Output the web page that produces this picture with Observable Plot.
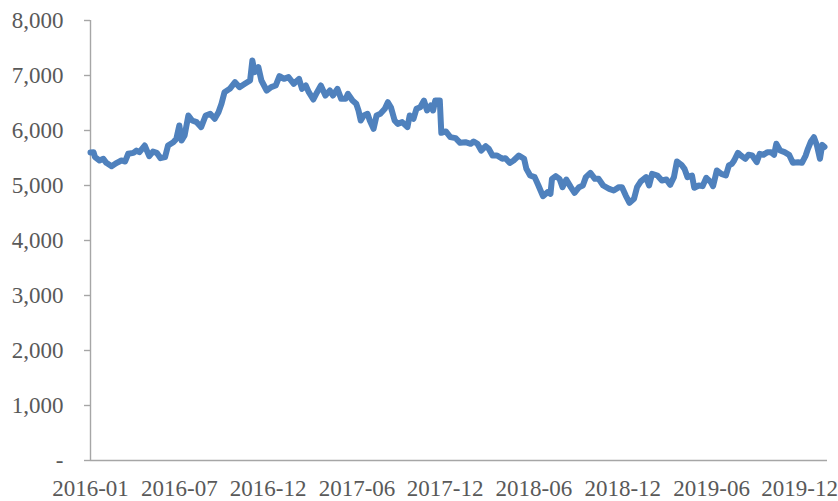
<!DOCTYPE html>
<html>
<head>
<meta charset="utf-8">
<script src="https://cdn.jsdelivr.net/npm/d3@7"></script>
<script src="https://cdn.jsdelivr.net/npm/@observablehq/plot@0.6"></script>
<style>
  html, body { margin: 0; padding: 0; background: #ffffff; }
  #chart svg { display: block; }
</style>
</head>
<body>
<div id="chart"></div>
<script>
// Trading-day index (category position) and index level
const dayIndex = [
  0, 4, 6, 12, 17, 21, 28, 35, 41, 46, 50, 57, 61, 65, 72, 78, 83, 88, 93, 99,
  103, 110, 114, 118, 121, 125, 130, 135, 141, 147, 153, 159, 165, 170, 174, 178, 185, 192, 198, 205,
  212, 215, 218, 223, 227, 234, 240, 246, 251, 257, 263, 270, 277, 281, 286, 290, 296, 301, 306, 312,
  318, 322, 328, 333, 339, 342, 348, 353, 356, 359, 363, 368, 371, 376, 380, 385, 391, 395, 399, 404,
  408, 414, 421, 424, 429, 433, 438, 443, 447, 452, 455, 458, 464, 466, 472, 478, 485, 491, 498, 505,
  509, 514, 519, 525, 529, 534, 540, 547, 551, 557, 562, 569, 576, 579, 584, 590, 595, 601, 607, 611,
  613, 618, 623, 627, 632, 638, 643, 649, 654, 658, 664, 670, 675, 681, 689, 695, 702, 706, 711, 716,
  722, 726, 731, 738, 742, 746, 753, 759, 765, 770, 775, 779, 785, 789, 793, 799, 802, 808, 813, 818,
  824, 827, 832, 838, 844, 848, 852, 855, 860, 864, 870, 874, 879, 885, 889, 894, 899, 904, 908, 911,
  916, 922, 928, 933, 940, 945, 950, 953, 957, 961, 965, 969, 972, 975
];
const indexValue = [
  5600, 5605, 5515, 5455, 5485, 5412, 5350, 5412, 5455, 5436, 5576, 5594, 5636, 5606, 5727, 5533, 5618, 5594, 5497, 5515,
  5727, 5788, 5848, 6091, 5818, 5909, 6273, 6182, 6152, 6061, 6273, 6303, 6212, 6333, 6485, 6697, 6758, 6879, 6788, 6849,
  6909, 7273, 7061, 7152, 6909, 6727, 6788, 6818, 6988, 6939, 6970, 6849, 6939, 6758, 6818, 6697, 6564, 6697, 6818, 6636,
  6727, 6636, 6758, 6576, 6576, 6667, 6545, 6485, 6364, 6182, 6273, 6303, 6182, 6030, 6273, 6303, 6394, 6515, 6424, 6182,
  6121, 6152, 6061, 6273, 6212, 6394, 6424, 6545, 6364, 6455, 6364, 6545, 6545, 5958, 5982, 5879, 5861, 5776, 5788, 5758,
  5800, 5758, 5636, 5715, 5667, 5545, 5545, 5485, 5497, 5412, 5455, 5545, 5485, 5303, 5182, 5152, 5000, 4806, 4879, 4848,
  5121, 5170, 5121, 4970, 5109, 4970, 4867, 4970, 5000, 5152, 5230, 5121, 5121, 5000, 4939, 4909, 4970, 4970, 4818, 4685,
  4758, 4970, 5075, 5152, 5000, 5212, 5182, 5091, 5109, 5012, 5152, 5436, 5376, 5303, 5152, 5182, 4958, 5000, 4988, 5139,
  5061, 4988, 5273, 5212, 5182, 5364, 5394, 5455, 5594, 5545, 5485, 5558, 5545, 5424, 5576, 5558, 5606, 5606, 5558, 5758,
  5636, 5606, 5558, 5412, 5424, 5412, 5545, 5667, 5800, 5879, 5727, 5485, 5739, 5700
];

// Axis ticks and labels
const yTicks = [0, 1000, 2000, 3000, 4000, 5000, 6000, 7000, 8000];
const xTickIdx = [0, 118, 236, 354, 471, 589, 707, 825, 942];
const xTickLabels = ["2016-01", "2016-07", "2016-12", "2017-06", "2017-12", "2018-06", "2018-12", "2019-06", "2019-12"];

const data = dayIndex.map((d, i) => ({i: d, v: indexValue[i]}));
const fmt = d3.format(",");
const font = "'Liberation Serif', 'Times New Roman', Times, serif";

const chart = Plot.plot({
  width: 838,
  height: 501,
  marginLeft: 90,
  marginRight: 11,
  marginTop: 20,
  marginBottom: 41,
  style: {fontFamily: font, fontSize: "23px", color: "#595959", background: "#ffffff"},
  x: {domain: [0, 979], axis: null},
  y: {domain: [0, 8000], axis: null},
  marks: [
    Plot.ruleX([0], {stroke: "#a6a6a6", strokeWidth: 1.4}),
    Plot.ruleY([0], {stroke: "#a6a6a6", strokeWidth: 1.4}),
    Plot.axisY(yTicks, {
      anchor: "left", tickSize: 6, tickPadding: 21,
      stroke: "#a6a6a6", strokeWidth: 1.4, fill: "#595959", fontSize: 23,
      tickFormat: d => d === 0 ? "-" : fmt(d), label: null
    }),
    Plot.axisX(xTickIdx, {
      anchor: "bottom", tickSize: 0, tickPadding: 19,
      stroke: "none", fill: "#595959", fontSize: 23,
      tickFormat: d => xTickLabels[xTickIdx.indexOf(d)], label: null
    }),
    Plot.line(data, {
      x: "i", y: "v", stroke: "#4F81BD", strokeWidth: 6,
      strokeLinejoin: "round", strokeLinecap: "round", curve: "linear"
    })
  ]
});
document.getElementById("chart").appendChild(chart);
</script>
</body>
</html>
